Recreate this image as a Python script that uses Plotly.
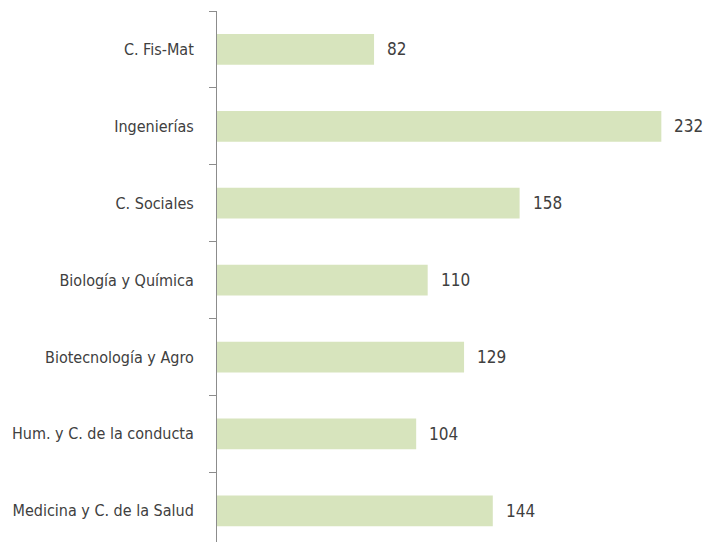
import plotly.graph_objects as go

categories = [
    "Medicina y C. de la Salud",
    "Hum. y C. de la conducta",
    "Biotecnología y Agro",
    "Biología y Química",
    "C. Sociales",
    "Ingenierías",
    "C. Fis-Mat",
]
values = [144, 104, 129, 110, 158, 232, 82]

FONT = "DejaVu Sans Condensed, Liberation Sans Narrow, sans-serif"
TEXT_COLOR = "#404040"

fig = go.Figure(
    go.Bar(
        x=values,
        y=categories,
        orientation="h",
        marker=dict(color="#d7e4bd", line=dict(width=0)),
        width=0.4,
        hoverinfo="x+y",
    )
)

for c, v in zip(categories, values):
    fig.add_annotation(
        x=v, y=c, text=str(v), showarrow=False,
        xanchor="left", yanchor="middle", xshift=11,
        font=dict(family=FONT, size=17, color=TEXT_COLOR),
    )

fig.update_layout(
    width=705, height=542,
    margin=dict(l=217, r=0, t=11, b=0),
    paper_bgcolor="white", plot_bgcolor="white",
    showlegend=False,
    font=dict(family=FONT, size=16, color=TEXT_COLOR),
    xaxis=dict(range=[0, 254.8], visible=False, showgrid=False, zeroline=False),
    yaxis=dict(
        type="category",
        automargin=False,
        range=[-0.406, 6.5],
        showline=True, linecolor="#8c8c8c", linewidth=1,
        ticks="outside", ticklen=7, tickcolor="#8c8c8c",
        tickson="boundaries",
        ticklabelstandoff=19,
        showgrid=False, zeroline=False,
        tickfont=dict(family=FONT, size=16, color=TEXT_COLOR),
    ),
)

fig.write_html(
    "out.html",
    config={"displayModeBar": False},
    post_script="document.body.style.margin='0';document.body.style.overflow='hidden';",
)
